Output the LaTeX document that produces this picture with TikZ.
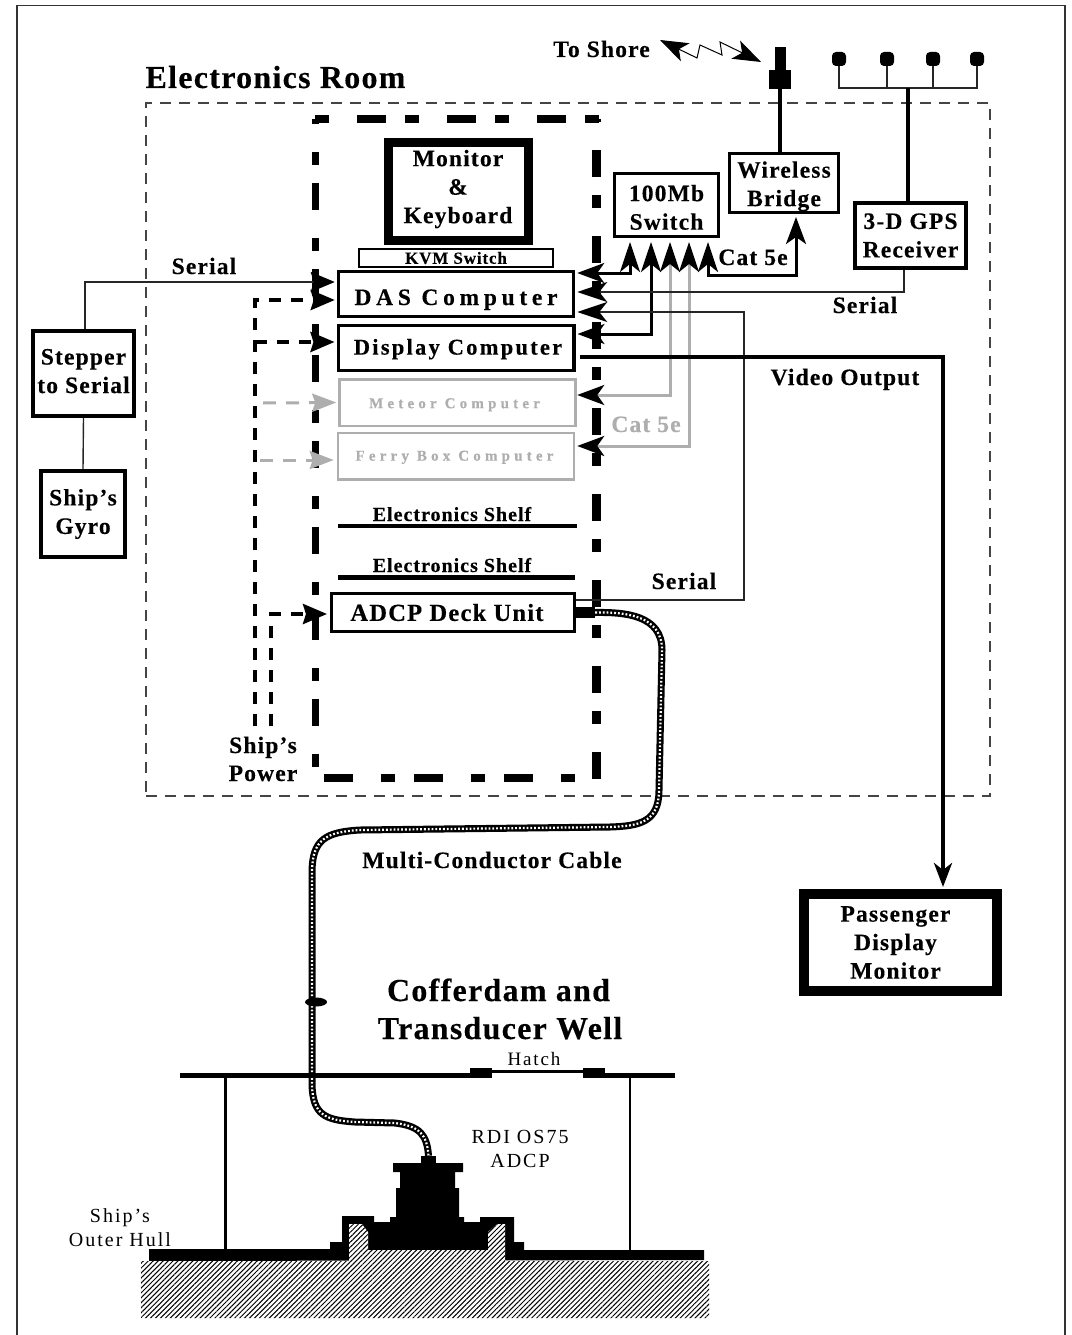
\documentclass[tikz,border=0pt]{standalone}
\usepackage{fontspec}
\setmainfont{Liberation Serif}
\newfontfamily\boxfam[LetterSpace=5,BoldFeatures={FakeBold=0.3}]{Liberation Serif}
\newfontfamily\midfam[LetterSpace=10,BoldFeatures={FakeBold=0.3}]{Liberation Serif}
\newfontfamily\widefam[LetterSpace=20,BoldFeatures={FakeBold=0.3}]{Liberation Serif}
\newfontfamily\sparsefam[LetterSpace=28,BoldFeatures={FakeBold=0.3}]{Liberation Serif}
\newfontfamily\headfam[LetterSpace=4,BoldFeatures={FakeBold=0.3}]{Liberation Serif}
\usetikzlibrary{arrows.meta,patterns.meta,shapes.geometric}
\definecolor{inkgray}{HTML}{AEAEAE}
\definecolor{roomgray}{HTML}{444444}
\newcommand{\pushdown}[1]{\rule{0pt}{#1pt}}
\newcommand{\pushup}[1]{\rule[-#1pt]{0pt}{#1pt}}

\begin{document}
\begin{tikzpicture}[
  x=1pt,y=-1pt,
  every node/.style={inner sep=0pt,align=center},
  boxnode/.style={rectangle,draw=black,fill=white,line width=3pt,font=\boxfam\bfseries\fontsize{23.5}{28.5}\selectfont},
  pcbox/.style={boxnode,minimum width=235.5pt,minimum height=45pt},
  graybox/.style={boxnode,draw=inkgray,text=inkgray,line width=2.5pt,minimum width=236pt,minimum height=46.5pt,font=\sparsefam\bfseries\fontsize{15}{18}\selectfont},
  lbl/.style={anchor=base,font=\boxfam\bfseries\fontsize{23.5}{28.5}\selectfont},
  title/.style={font=\headfam\bfseries\fontsize{32}{38}\selectfont},
  plain/.style={anchor=base,font=\midfam\fontsize{20}{24}\selectfont},
  shelf/.style={anchor=base,font=\boxfam\bfseries\fontsize{20}{22}\selectfont},
  blk/.style={rectangle,fill=black},
  dome/.style={rectangle,fill=black,rounded corners=4pt,minimum width=14pt,minimum height=14pt},
  net/.style={line width=3pt,{Stealth[length=30pt,width=20pt,inset=8pt,black]}-{Stealth[length=27pt,width=20pt,inset=7pt,black]}},
  grayline/.style={net,draw=inkgray},
  thinline/.style={line width=1.4pt,draw=black!85},
  ser/.style={thinline,-{Stealth[length=30pt,width=20pt,inset=8pt,black]}},
  pow/.style={line width=4pt,dash pattern=on 12pt off 10pt,-{Stealth[length=24pt,width=20pt,inset=3pt,black]}},
  graypow/.style={line width=3pt,draw=inkgray,dash pattern=on 13pt off 10pt,-{Stealth[length=24pt,width=18pt,inset=3pt,inkgray]}},
  cable/.style={line width=7pt,draw=black,postaction={draw=white,line width=2.2pt,dash pattern=on 1.8pt off 2pt}}
]
\useasboundingbox (0,0) rectangle (1071,1335);
\draw[line width=1.8pt,draw=black!80] (17,1335) -- (17,5.5) -- (1065,5.5) -- (1065,1335);

% rooms
\node[rectangle,draw=roomgray,line width=1.1pt,dash pattern=on 11pt off 8pt,minimum width=844pt,minimum height=693pt] (room) at (568,449.5) {};
\draw[line width=8pt,dash pattern=on 14pt off 28pt on 29pt off 19pt] (315,119) -- (600,119);
\draw[line width=8pt,dash pattern=on 29pt off 28pt on 14pt off 19pt] (324,777.5) -- (580,777.5);
\draw[line width=7pt,dash pattern=on 13pt off 18pt on 27pt off 28pt,dash phase=53pt] (315,119) -- (315,781);
\draw[line width=9pt,dash pattern=on 27pt off 18pt on 13pt off 28pt,dash phase=55pt] (596,119) -- (596,781);

% boxes
\node[boxnode,line width=9pt,minimum width=140pt,minimum height=98pt] (monitor) at (458,191.5) {Monitor\\\&\\Keyboard\pushup{10}};
\node[boxnode,line width=1.5pt,minimum width=194pt,minimum height=18pt,font=\boxfam\bfseries\fontsize{17}{18}\selectfont] (kvm) at (456,258) {KVM Switch};
\node[pcbox,font=\widefam\bfseries\fontsize{23.5}{26}\selectfont] (das) at (456,294) {\pushdown{27}DAS Computer};
\node[pcbox,line width=3.5pt,font=\midfam\bfseries\fontsize{22.5}{26}\selectfont] (display) at (456,348) {\kern4pt\pushdown{18}Display Computer};
\node[graybox] (meteor) at (457.5,402.5) {\pushdown{14.5}Meteor Computer\kern6pt};
\node[graybox] (ferry) at (456,456) {\pushdown{12.5}Ferry Box Computer\kern3pt};
\node[pcbox,minimum width=243pt,minimum height=38pt,font=\boxfam\bfseries\fontsize{24.5}{26}\selectfont] (adcp) at (453,612.5) {ADCP Deck Unit\kern12pt};
\node[boxnode,minimum width=104pt,minimum height=63pt] (switch) at (666.5,205) {\pushdown{21}100Mb\\Switch};
\node[boxnode,minimum width=109pt,minimum height=59pt] (bridge) at (784,183) {\pushdown{23}Wireless\\Bridge};
\node[boxnode,line width=4pt,minimum width=111pt,minimum height=65pt] (gps) at (910.5,235.5) {3-D GPS\\Receiver};
\node[boxnode,line width=4pt,minimum width=101pt,minimum height=85pt] (stepper) at (83.5,373.5) {Stepper\\to Serial\pushup{5}};
\node[boxnode,line width=4.5pt,minimum width=84pt,minimum height=86pt] (gyro) at (83,514) {Ship’s\\Gyro};
\node[boxnode,line width=10pt,minimum width=193pt,minimum height=97pt] (passenger) at (900.5,942.5) {Passenger\kern10pt\\Display\kern10pt\\Monitor\kern10pt};

% antennas
\node[blk,minimum width=11pt,minimum height=23pt] (mast) at (780.5,58.5) {};
\node[blk,minimum width=22pt,minimum height=19pt] (mastbase) at (780,79.5) {};
\draw[line width=4pt] (mastbase.south) -- (mastbase.south |- bridge.north);
\coordinate (gpsjoin) at (908,88);
\foreach \n/\x in {1/839,2/887,3/933,4/977} {
  \node[dome] (ant\n) at (\x,59) {};
  \draw[thinline] (ant\n.south) |- (gpsjoin);
}
\draw[line width=4pt] (gpsjoin) -- (gpsjoin |- gps.north);

% to shore
\coordinate (shoreL) at (660,40);
\coordinate (shoreR) at (761,62);
\draw[line width=1pt,{Stealth[length=28pt,width=20pt,inset=7pt]}-{Stealth[length=28pt,width=20pt,inset=7pt]}] (shoreL) -- (697,58) -- (700,45) -- (722,55) -- (720,42) -- (shoreR);

% network
\draw[net] ([shift={(-36.5pt,-4pt)}]switch.south) |- ([shift={(2pt,21pt)}]das.east);
\draw[net] ([shift={(-15.5pt,-4pt)}]switch.south) |- ([shift={(2pt,14pt)}]display.east);
\draw[grayline] ([shift={(3.5pt,-4pt)}]switch.south) |- ([shift={(0.5pt,7.5pt)}]meteor.east);
\draw[grayline] ([shift={(22.5pt,-4pt)}]switch.south) |- ([shift={(2pt,10pt)}]ferry.east);
\draw[net] ([shift={(41.5pt,-4pt)}]switch.south) -- ++(0,33) -| ([shift={(12pt,-3pt)}]bridge.south);
\coordinate (gpsdrop) at (904,270);
\coordinate (stepdrop) at (85,329);
\draw[ser] (gpsdrop) |- ([shift={(2pt,2pt)}]das.east);
\draw[ser] ([yshift=12.5pt]adcp.east) -- ++(168,0) |- ([shift={(2pt,-18pt)}]das.east);
\draw[thinline,-{Stealth[length=24pt,width=20pt,inset=3pt,black]}] (stepdrop) |- ([shift={(-2pt,12pt)}]das.west);
\draw[thinline] (stepper.south) -- (gyro.north);
\coordinate (videoStart) at (580,357);
\draw[line width=4pt,-{Stealth[length=24pt,width=18pt,inset=7pt,black]}] (videoStart) -| ([shift={(42.5pt,2pt)}]passenger.north);

% power
\coordinate (powerA) at (255,726);
\coordinate (powerB) at (271,726);
\coordinate (powerC) at (255,342);
\coordinate (powerD) at (263,403);
\coordinate (powerE) at (260,460);
\draw[pow] (powerA) |- ([shift={(-2pt,-6pt)}]das.west);
\draw[pow] (powerC) -- ([shift={(-2pt,6pt)}]display.west);
\draw[pow] (powerB) |- ([shift={(-3pt,-1.5pt)}]adcp.west);
\draw[graypow] (powerD) -- ([xshift=-2pt]meteor.west);
\draw[graypow] (powerE) -- ([shift={(-3pt,-4pt)}]ferry.west);

% shelves
\node[shelf] (shelfa) at (452,521) {Electronics Shelf};
\draw[line width=4pt] (338,526) -- (577,526);
\node[shelf] (shelfb) at (452,572) {Electronics Shelf};
\draw[line width=5pt] (338,577) -- (575,577);

% cable
\node[blk,minimum width=20pt,minimum height=11pt] (plug) at (585,612.5) {};
\node[blk,minimum width=15pt,minimum height=8pt] (xdcr) at (428.5,1160) {};
\draw[cable] (plug.east) .. controls (625,612) and (662,615) .. (662,650) -- (659,790) .. controls (659,822) and (640,826) .. (610,827) -- (360,830) .. controls (325,832) and (313,840) .. (312,870) -- (312,1085) .. controls (313,1115) and (325,1120) .. (355,1122) -- (395,1123) .. controls (420,1126) and (427,1135) .. (xdcr.north);
\node[ellipse,fill=black,minimum width=22pt,minimum height=9pt] (knot) at (316,1002) {};

% well
\draw[line width=5pt] (180,1075.5) -- (492,1075.5);
\draw[line width=5pt] (583,1075.5) -- (675,1075.5);
\node[blk,minimum width=22pt,minimum height=10pt] (hatchL) at (481,1073) {};
\node[blk,minimum width=22pt,minimum height=10pt] (hatchR) at (594,1073) {};
\draw[line width=3pt] ([yshift=2pt]hatchL.east) -- ([yshift=2pt]hatchR.west);
\draw[line width=3pt] (225,1078) -- (225,1250);
\draw[line width=2pt] (630,1078) -- (630,1250);
\fill[black] (149,1249) -- (330,1249) -- (330,1242) -- (342,1242) -- (342,1216) -- (374,1216) -- (374,1222) -- (390,1222) -- (390,1217) -- (396,1217) -- (396,1188) -- (400,1188) -- (400,1172) -- (393,1172) -- (393,1163) -- (463,1163) -- (463,1172) -- (455,1172) -- (455,1188) -- (459,1188) -- (459,1217) -- (464,1217) -- (464,1222) -- (480,1222) -- (480,1217) -- (514,1217) -- (514,1242) -- (524,1242) -- (524,1250) -- (704,1250) -- (704,1260) -- (149,1261) -- cycle;
\path[preaction={fill=white},pattern={Lines[angle=45,distance=3.5pt,line width=1pt]}] (141,1261) -- (349,1261) -- (349,1224) -- (362,1224) -- (368,1232) -- (368,1250) -- (488,1250) -- (488,1232) -- (497,1224) -- (505,1224) -- (505,1261) -- (709,1261) -- (709,1318) -- (141,1318) -- cycle;

% labels
\node[anchor=base,font=\headfam\bfseries\fontsize{32}{36}\selectfont] (roomlabel) at (275.5,88) {Electronics Room};
\node[lbl] (toshore) at (601.5,57) {To Shore};
\node[lbl] (serialA) at (204,274) {Serial};
\node[lbl] (serialB) at (865,313) {Serial};
\node[lbl] (serialC) at (684,589) {Serial};
\node[lbl] (catA) at (753,265) {Cat 5e};
\node[lbl,text=inkgray] (catB) at (646,432) {Cat 5e};
\node[lbl] (video) at (845,385) {Video Output};
\node[lbl] (powerlbl) at (263,753) {Ship’s};
\node[lbl] (powerlblb) at (263,781) {Power};
\node[lbl] (cablelbl) at (492,868) {Multi-Conductor Cable};
\node[title,anchor=base] (wella) at (498.5,1001) {Cofferdam and};
\node[title,anchor=base] (wellb) at (500,1039) {Transducer Well};
\node[plain,font=\midfam\fontsize{19}{20}\selectfont] (hatchlbl) at (534,1065) {Hatch};
\node[plain] (os) at (520,1143) {RDI OS75};
\node[plain] (osb) at (520,1167) {ADCP};
\node[plain] (hull) at (120,1222) {Ship’s};
\node[plain] (hullb) at (120,1246) {Outer Hull};
\end{tikzpicture}
\end{document}
